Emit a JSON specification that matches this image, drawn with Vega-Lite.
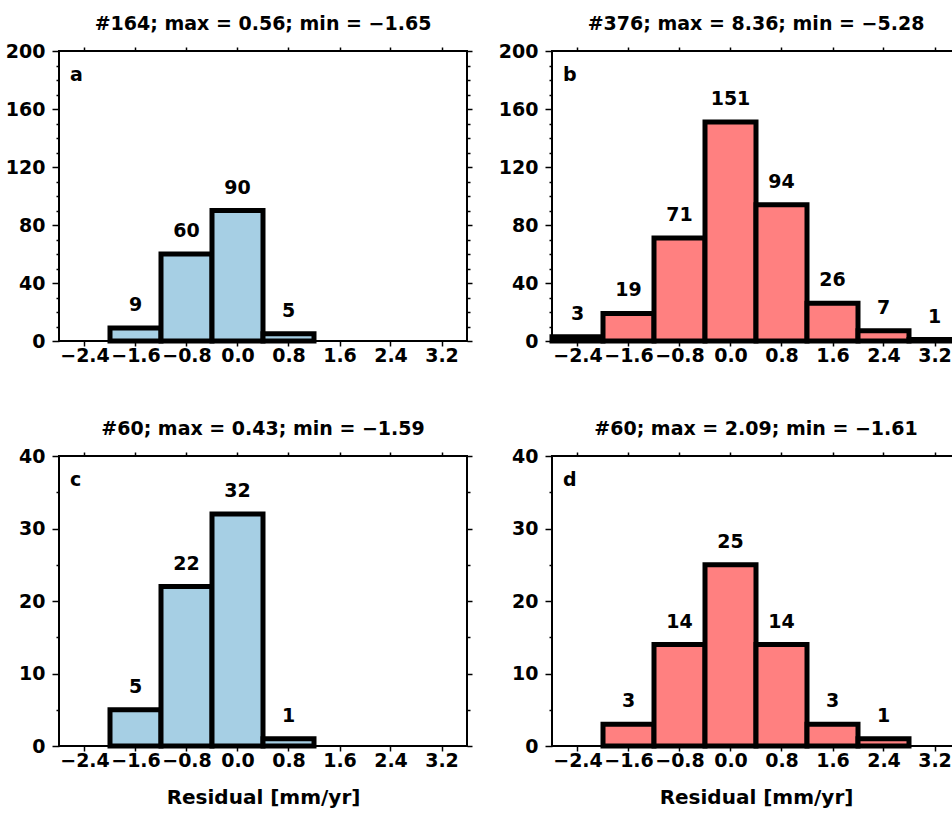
{
  "$schema": "https://vega.github.io/schema/vega-lite/v6.json",
  "padding": {"left": 4, "top": 14, "right": 0, "bottom": 0},
  "background": "white",
  "config": {
    "view": {"stroke": "black", "strokeWidth": 2},
    "font": "DejaVu Sans",
    "axis": {
      "labelFont": "DejaVu Sans", "labelFontWeight": "bold", "labelFontSize": 19, "labelColor": "black",
      "titleFont": "DejaVu Sans", "titleFontWeight": "bold", "titleFontSize": 20, "titleColor": "black",
      "tickColor": "black", "tickWidth": 1.5, "domain": false, "grid": false,
      "labelFlush": false, "labelOverlap": false
    },
    "title": {"font": "DejaVu Sans", "fontWeight": "bold", "fontSize": 19, "color": "black", "frame": "group", "anchor": "middle", "baseline": "alphabetic", "offset": 8},
    "text": {"font": "DejaVu Sans", "fontWeight": "bold", "fontSize": 19, "color": "black"}
  },
  "datasets": {
    "a": [
      {"lo": -2.0, "hi": -1.2, "mid": -1.6, "n": 9},
      {"lo": -1.2, "hi": -0.4, "mid": -0.8, "n": 60},
      {"lo": -0.4, "hi": 0.4, "mid": 0.0, "n": 90},
      {"lo": 0.4, "hi": 1.2, "mid": 0.8, "n": 5}
    ],
    "b": [
      {"lo": -2.8, "hi": -2.0, "mid": -2.4, "n": 3},
      {"lo": -2.0, "hi": -1.2, "mid": -1.6, "n": 19},
      {"lo": -1.2, "hi": -0.4, "mid": -0.8, "n": 71},
      {"lo": -0.4, "hi": 0.4, "mid": 0.0, "n": 151},
      {"lo": 0.4, "hi": 1.2, "mid": 0.8, "n": 94},
      {"lo": 1.2, "hi": 2.0, "mid": 1.6, "n": 26},
      {"lo": 2.0, "hi": 2.8, "mid": 2.4, "n": 7},
      {"lo": 2.8, "hi": 3.6, "mid": 3.2, "n": 1}
    ],
    "c": [
      {"lo": -2.0, "hi": -1.2, "mid": -1.6, "n": 5},
      {"lo": -1.2, "hi": -0.4, "mid": -0.8, "n": 22},
      {"lo": -0.4, "hi": 0.4, "mid": 0.0, "n": 32},
      {"lo": 0.4, "hi": 1.2, "mid": 0.8, "n": 1}
    ],
    "d": [
      {"lo": -2.0, "hi": -1.2, "mid": -1.6, "n": 3},
      {"lo": -1.2, "hi": -0.4, "mid": -0.8, "n": 14},
      {"lo": -0.4, "hi": 0.4, "mid": 0.0, "n": 25},
      {"lo": 0.4, "hi": 1.2, "mid": 0.8, "n": 14},
      {"lo": 1.2, "hi": 2.0, "mid": 1.6, "n": 3},
      {"lo": 2.0, "hi": 2.8, "mid": 2.4, "n": 1}
    ]
  },
  "columns": 2,
  "bounds": "flush",
  "spacing": {"row": 115, "column": 85},
  "concat": [
    {
      "width": 408, "height": 290,
      "title": {"text": "#164; max = 0.56; min = −1.65"},
      "data": {"name": "a"},
      "resolve": {"axis": {"x": "independent", "y": "independent"}},
      "layer": [
        {
          "mark": {"type": "bar", "fill": "#a6cfe4", "stroke": "black", "strokeWidth": 5},
          "encoding": {
            "x": {"field": "lo", "type": "quantitative", "scale": {"domain": [-2.8, 3.6], "nice": false, "zero": false},
                  "axis": {"orient": "bottom", "title": null, "values": [-2.4, -1.6, -0.8, 0, 0.8, 1.6, 2.4, 3.2], "format": ".1f", "tickSize": 5, "labelPadding": 0}},
            "x2": {"field": "hi"},
            "y": {"field": "n", "type": "quantitative", "scale": {"domain": [0, 200], "nice": false},
                  "axis": {"orient": "left", "title": null, "values": [0,10,20,30,40,50,60,70,80,90,100,110,120,130,140,150,160,170,180,190,200],
                           "labelExpr": "datum.value % 40 === 0 ? datum.label : ''",
                           "tickSize": {"condition": {"test": "datum.value % 40 === 0", "value": 7}, "value": 3}, "labelPadding": 7}},
            "y2": {"datum": 0}
          }
        },
        {
          "mark": {"type": "text", "dy": -17, "baseline": "alphabetic", "align": "center"},
          "encoding": {
            "x": {"field": "mid", "type": "quantitative",
                  "axis": {"orient": "top", "title": null, "labels": false, "values": [-2.4, -1.6, -0.8, 0, 0.8, 1.6, 2.4, 3.2], "tickSize": 4}},
            "y": {"field": "n", "type": "quantitative",
                  "axis": {"orient": "right", "title": null, "labels": false, "values": [0,10,20,30,40,50,60,70,80,90,100,110,120,130,140,150,160,170,180,190,200],
                           "tickSize": {"condition": {"test": "datum.value % 40 === 0", "value": 5}, "value": 3}}},
            "text": {"field": "n", "type": "quantitative"}
          }
        },
        {
          "data": {"values": [{"letter": "a"}]},
          "mark": {"type": "text", "dx": 11, "dy": 30, "baseline": "alphabetic", "align": "left"},
          "encoding": {
            "x": {"datum": -2.8, "axis": null},
            "y": {"datum": 200, "axis": null},
            "text": {"field": "letter"}
          }
        }
      ]
    },
    {
      "width": 408, "height": 290,
      "title": {"text": "#376; max = 8.36; min = −5.28"},
      "data": {"name": "b"},
      "resolve": {"axis": {"x": "independent", "y": "independent"}},
      "layer": [
        {
          "mark": {"type": "bar", "fill": "#ff8080", "stroke": "black", "strokeWidth": 5},
          "encoding": {
            "x": {"field": "lo", "type": "quantitative", "scale": {"domain": [-2.8, 3.6], "nice": false, "zero": false},
                  "axis": {"orient": "bottom", "title": null, "values": [-2.4, -1.6, -0.8, 0, 0.8, 1.6, 2.4, 3.2], "format": ".1f", "tickSize": 5, "labelPadding": 0}},
            "x2": {"field": "hi"},
            "y": {"field": "n", "type": "quantitative", "scale": {"domain": [0, 200], "nice": false},
                  "axis": {"orient": "left", "title": null, "values": [0,10,20,30,40,50,60,70,80,90,100,110,120,130,140,150,160,170,180,190,200],
                           "labelExpr": "datum.value % 40 === 0 ? datum.label : ''",
                           "tickSize": {"condition": {"test": "datum.value % 40 === 0", "value": 7}, "value": 3}, "labelPadding": 7}},
            "y2": {"datum": 0}
          }
        },
        {
          "mark": {"type": "text", "dy": -17, "baseline": "alphabetic", "align": "center"},
          "encoding": {
            "x": {"field": "mid", "type": "quantitative",
                  "axis": {"orient": "top", "title": null, "labels": false, "values": [-2.4, -1.6, -0.8, 0, 0.8, 1.6, 2.4, 3.2], "tickSize": 4}},
            "y": {"field": "n", "type": "quantitative",
                  "axis": {"orient": "right", "title": null, "labels": false, "values": [0,10,20,30,40,50,60,70,80,90,100,110,120,130,140,150,160,170,180,190,200],
                           "tickSize": {"condition": {"test": "datum.value % 40 === 0", "value": 5}, "value": 3}}},
            "text": {"field": "n", "type": "quantitative"}
          }
        },
        {
          "data": {"values": [{"letter": "b"}]},
          "mark": {"type": "text", "dx": 11, "dy": 30, "baseline": "alphabetic", "align": "left"},
          "encoding": {
            "x": {"datum": -2.8, "axis": null},
            "y": {"datum": 200, "axis": null},
            "text": {"field": "letter"}
          }
        }
      ]
    },
    {
      "width": 408, "height": 290,
      "title": {"text": "#60; max = 0.43; min = −1.59"},
      "data": {"name": "c"},
      "resolve": {"axis": {"x": "independent", "y": "independent"}},
      "layer": [
        {
          "mark": {"type": "bar", "fill": "#a6cfe4", "stroke": "black", "strokeWidth": 5},
          "encoding": {
            "x": {"field": "lo", "type": "quantitative", "scale": {"domain": [-2.8, 3.6], "nice": false, "zero": false},
                  "axis": {"orient": "bottom", "title": "Residual [mm/yr]", "titlePadding": 17, "values": [-2.4, -1.6, -0.8, 0, 0.8, 1.6, 2.4, 3.2], "format": ".1f", "tickSize": 5, "labelPadding": 0}},
            "x2": {"field": "hi"},
            "y": {"field": "n", "type": "quantitative", "scale": {"domain": [0, 40], "nice": false},
                  "axis": {"orient": "left", "title": null, "values": [0,5,10,15,20,25,30,35,40],
                           "labelExpr": "datum.value % 10 === 0 ? datum.label : ''",
                           "tickSize": {"condition": {"test": "datum.value % 10 === 0", "value": 7}, "value": 3}, "labelPadding": 7}},
            "y2": {"datum": 0}
          }
        },
        {
          "mark": {"type": "text", "dy": -17, "baseline": "alphabetic", "align": "center"},
          "encoding": {
            "x": {"field": "mid", "type": "quantitative",
                  "axis": {"orient": "top", "title": null, "labels": false, "values": [-2.4, -1.6, -0.8, 0, 0.8, 1.6, 2.4, 3.2], "tickSize": 4}},
            "y": {"field": "n", "type": "quantitative",
                  "axis": {"orient": "right", "title": null, "labels": false, "values": [0,5,10,15,20,25,30,35,40],
                           "tickSize": {"condition": {"test": "datum.value % 10 === 0", "value": 5}, "value": 3}}},
            "text": {"field": "n", "type": "quantitative"}
          }
        },
        {
          "data": {"values": [{"letter": "c"}]},
          "mark": {"type": "text", "dx": 11, "dy": 30, "baseline": "alphabetic", "align": "left"},
          "encoding": {
            "x": {"datum": -2.8, "axis": null},
            "y": {"datum": 40, "axis": null},
            "text": {"field": "letter"}
          }
        }
      ]
    },
    {
      "width": 408, "height": 290,
      "title": {"text": "#60; max = 2.09; min = −1.61"},
      "data": {"name": "d"},
      "resolve": {"axis": {"x": "independent", "y": "independent"}},
      "layer": [
        {
          "mark": {"type": "bar", "fill": "#ff8080", "stroke": "black", "strokeWidth": 5},
          "encoding": {
            "x": {"field": "lo", "type": "quantitative", "scale": {"domain": [-2.8, 3.6], "nice": false, "zero": false},
                  "axis": {"orient": "bottom", "title": "Residual [mm/yr]", "titlePadding": 17, "values": [-2.4, -1.6, -0.8, 0, 0.8, 1.6, 2.4, 3.2], "format": ".1f", "tickSize": 5, "labelPadding": 0}},
            "x2": {"field": "hi"},
            "y": {"field": "n", "type": "quantitative", "scale": {"domain": [0, 40], "nice": false},
                  "axis": {"orient": "left", "title": null, "values": [0,5,10,15,20,25,30,35,40],
                           "labelExpr": "datum.value % 10 === 0 ? datum.label : ''",
                           "tickSize": {"condition": {"test": "datum.value % 10 === 0", "value": 7}, "value": 3}, "labelPadding": 7}},
            "y2": {"datum": 0}
          }
        },
        {
          "mark": {"type": "text", "dy": -17, "baseline": "alphabetic", "align": "center"},
          "encoding": {
            "x": {"field": "mid", "type": "quantitative",
                  "axis": {"orient": "top", "title": null, "labels": false, "values": [-2.4, -1.6, -0.8, 0, 0.8, 1.6, 2.4, 3.2], "tickSize": 4}},
            "y": {"field": "n", "type": "quantitative",
                  "axis": {"orient": "right", "title": null, "labels": false, "values": [0,5,10,15,20,25,30,35,40],
                           "tickSize": {"condition": {"test": "datum.value % 10 === 0", "value": 5}, "value": 3}}},
            "text": {"field": "n", "type": "quantitative"}
          }
        },
        {
          "data": {"values": [{"letter": "d"}]},
          "mark": {"type": "text", "dx": 11, "dy": 30, "baseline": "alphabetic", "align": "left"},
          "encoding": {
            "x": {"datum": -2.8, "axis": null},
            "y": {"datum": 40, "axis": null},
            "text": {"field": "letter"}
          }
        }
      ]
    }
  ]
}
